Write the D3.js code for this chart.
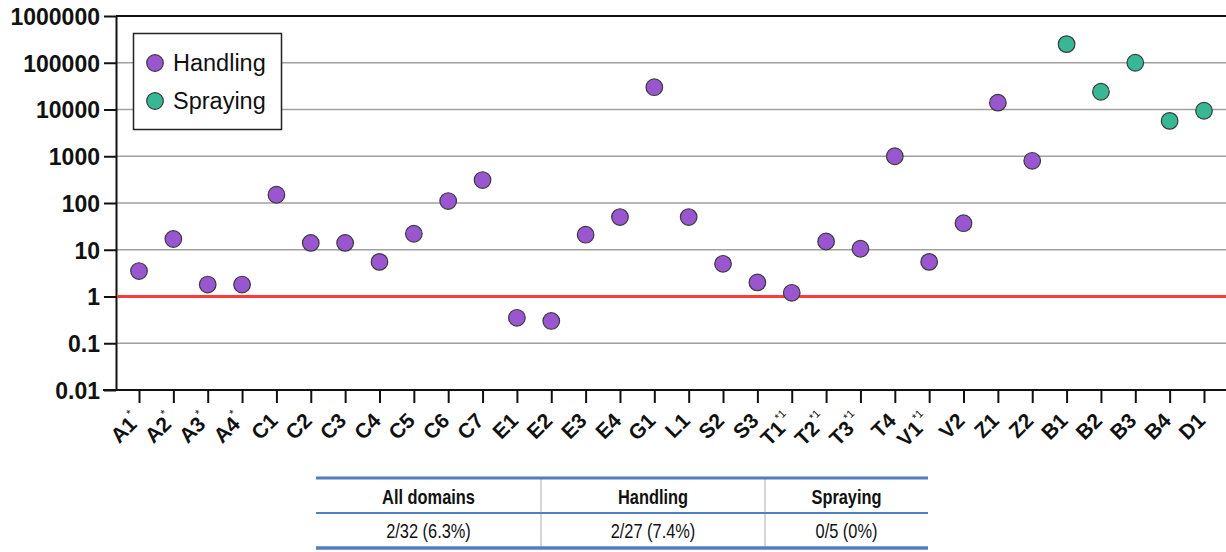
<!DOCTYPE html>
<html><head><meta charset="utf-8">
<script src="https://cdn.jsdelivr.net/npm/d3@7"></script>
<style>body{margin:0;background:#fff}svg{display:block}</style>
</head><body>
<svg id="c" width="1226" height="552"></svg>
<script>
const categories = ["A1","A2","A3","A4","C1","C2","C3","C4","C5","C6","C7","E1","E2","E3","E4","G1","L1","S2","S3","T1","T2","T3","T4","V1","V2","Z1","Z2","B1","B2","B3","B4","D1"];
const superscripts = ["*","*","*","*","","","","","","","","","","","","","","","","*1","*1","*1","","*1","","","","","","","",""];
const values = [3.5,17,1.8,1.8,150,14,14,5.5,22,110,310,0.35,0.3,21,50,30000,50,5,2,1.2,15,10.5,1000,5.5,37,14000,800,250000,24000,100000,5700,9400];
const groups = ["Handling","Handling","Handling","Handling","Handling","Handling","Handling","Handling","Handling","Handling","Handling","Handling","Handling","Handling","Handling","Handling","Handling","Handling","Handling","Handling","Handling","Handling","Handling","Handling","Handling","Handling","Handling","Spraying","Spraying","Spraying","Spraying","Spraying"];
const seriesNames = ["Handling","Spraying"];
const seriesColors = ["#9a56d0","#37b894"];
const yTicks = [0.01,0.1,1,10,100,1000,10000,100000,1000000];
const threshold = 1;
const tableHeaders = ["All domains","Handling","Spraying"];
const tableValues = ["2/32 (6.3%)","2/27 (7.4%)","0/5 (0%)"];

(function(){
const svg = d3.select("#c");
const pl = 116, pr = 1226, pt = 16, pb = 390;
const ff = "'Liberation Sans', Arial, Helvetica, sans-serif";
const y = d3.scaleLog().domain([0.01,1000000]).range([pb, pt]);
const x = d3.scalePoint().domain(categories).range([139, 1204]);
const color = d3.scaleOrdinal().domain(seriesNames).range(seriesColors);

// gridlines
svg.append("g").selectAll("line").data(yTicks.slice(1,-1)).join("line")
  .attr("x1", pl).attr("x2", pr).attr("y1", d=>y(d)).attr("y2", d=>y(d))
  .attr("stroke", "#a0a0a0").attr("stroke-width", 1.5);
// top border
svg.append("line").attr("x1", pl).attr("x2", pr).attr("y1", y(1000000)).attr("y2", y(1000000))
  .attr("stroke","#111").attr("stroke-width",2);

// y axis
const yAxis = svg.append("g").attr("transform",`translate(${pl},0)`)
  .call(d3.axisLeft(y).tickValues(yTicks).tickFormat(d=>String(d)).tickSize(12).tickSizeOuter(0));
yAxis.select(".domain").attr("stroke","#111").attr("stroke-width",2);
yAxis.selectAll(".tick line").attr("stroke","#111").attr("stroke-width",2);
yAxis.selectAll("text").attr("font-family",ff).attr("font-weight","bold")
  .attr("font-size",23).attr("fill","#111").attr("dy","0.36em").attr("x",-16);

// x axis
const xAxis = svg.append("g").attr("transform",`translate(0,${pb})`)
  .call(d3.axisBottom(x).tickSize(13).tickSizeOuter(0).tickFormat(""));
xAxis.select(".domain").attr("d",`M103,0H${pr}`).attr("stroke","#111").attr("stroke-width",2);
xAxis.selectAll(".tick line").attr("stroke","#111").attr("stroke-width",2);
xAxis.selectAll(".tick").each(function(d,i){
  const t = d3.select(this).append("text")
    .attr("transform","translate(2,32) rotate(-45)")
    .attr("text-anchor","end").attr("font-family",ff)
    .attr("font-weight","bold").attr("font-size",21).attr("fill","#111").attr("dy",0);
  t.append("tspan").text(d);
  if (superscripts[i]) t.append("tspan").attr("font-size",11).attr("font-weight","normal").attr("dy","-1.0em").attr("dx","0.5").text(superscripts[i]);
});

// threshold line
svg.append("line").attr("x1", pl+1).attr("x2", pr).attr("y1", y(threshold)).attr("y2", y(threshold))
  .attr("stroke","#ff3a3a").attr("stroke-width",3);

// points
svg.append("g").selectAll("circle").data(categories).join("circle")
  .attr("cx", d=>x(d)).attr("cy", (d,i)=>y(values[i])).attr("r", 8.3)
  .attr("fill", (d,i)=>color(groups[i])).attr("stroke","#3a3a3a").attr("stroke-width",1.2);

// legend
const lg = svg.append("g");
lg.append("rect").attr("x",133.5).attr("y",33.5).attr("width",148).attr("height",96)
  .attr("fill","#fff").attr("stroke","#222").attr("stroke-width",1.5);
seriesNames.forEach((s,i)=>{
  const cy = 63 + i*38;
  lg.append("circle").attr("cx",155).attr("cy",cy).attr("r",8.3).attr("fill",color(s)).attr("stroke","#3a3a3a").attr("stroke-width",1.2);
  lg.append("text").attr("x",173).attr("y",cy).attr("dy","0.36em").attr("font-family",ff)
    .attr("font-size",23.5).attr("fill","#111").text(s);
});

// table
const tx = [316, 541, 765, 928];
const tb = svg.append("g");
[541,765].forEach(vx=>tb.append("line").attr("x1",vx).attr("x2",vx).attr("y1",478).attr("y2",547).attr("stroke","#c8c8c8").attr("stroke-width",1.5));
tb.append("line").attr("x1",tx[0]).attr("x2",tx[3]).attr("y1",478).attr("y2",478).attr("stroke","#4f7fbf").attr("stroke-width",3);
tb.append("line").attr("x1",tx[0]).attr("x2",tx[3]).attr("y1",513).attr("y2",513).attr("stroke","#4f7fbf").attr("stroke-width",2);
tb.append("line").attr("x1",tx[0]).attr("x2",tx[3]).attr("y1",548).attr("y2",548).attr("stroke","#4f7fbf").attr("stroke-width",3.5);
tableHeaders.forEach((h,i)=>{
  const cx = (tx[i]+tx[i+1])/2;
  tb.append("g").attr("transform",`translate(${cx},497) scale(0.82,1)`)
    .append("text").attr("dy","0.36em").attr("text-anchor","middle")
    .attr("font-family",ff).attr("font-weight","bold").attr("font-size",20).attr("fill","#111").text(h);
  tb.append("g").attr("transform",`translate(${cx},531) scale(0.82,1)`)
    .append("text").attr("dy","0.36em").attr("text-anchor","middle")
    .attr("font-family",ff).attr("font-size",20).attr("fill","#111").text(tableValues[i]);
});
})();
</script>
</body></html>
